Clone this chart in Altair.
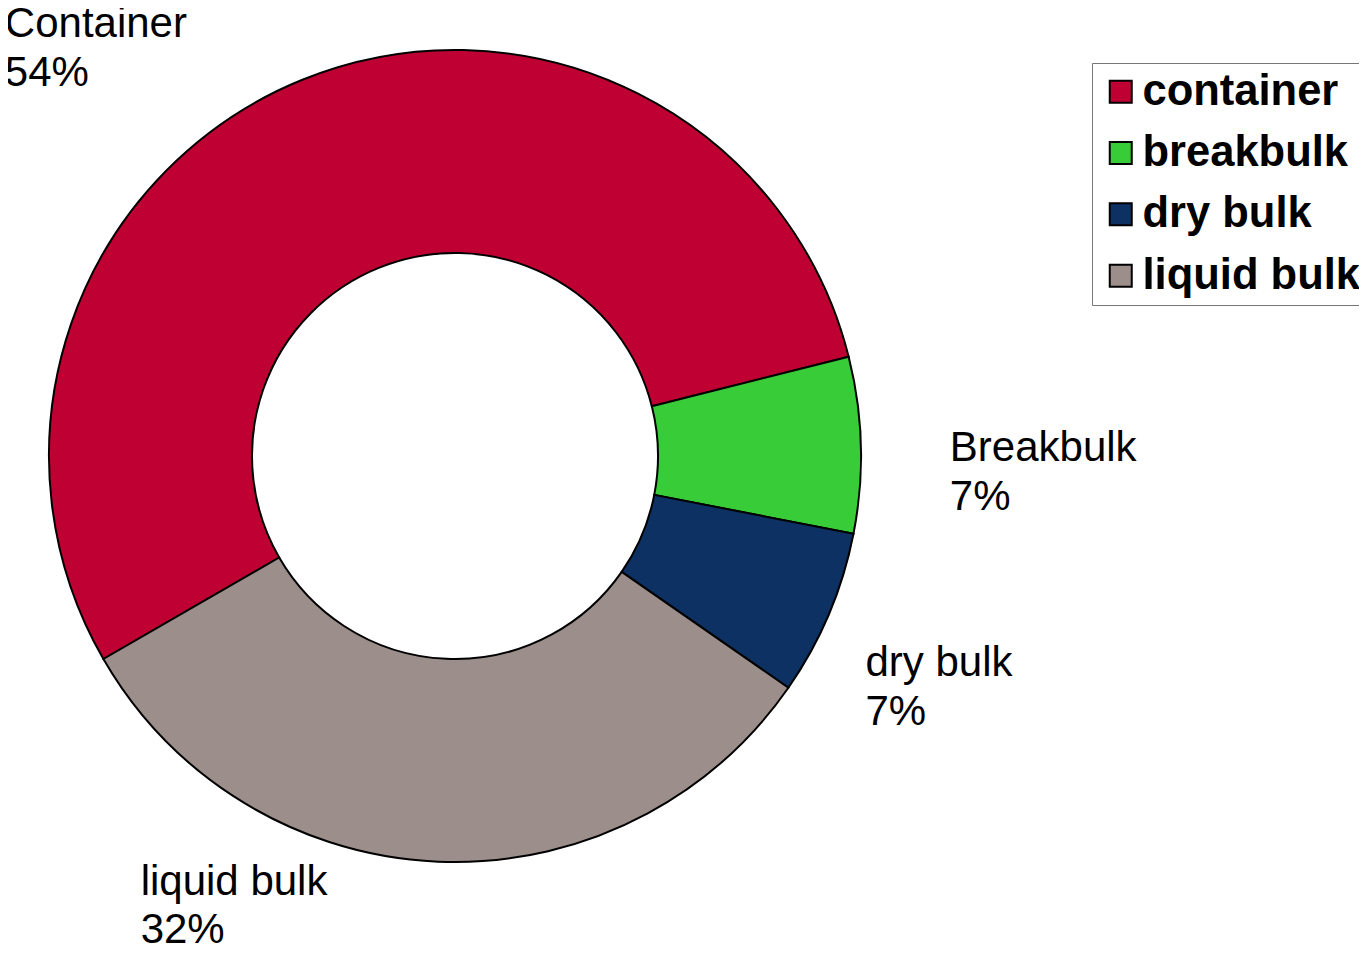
import math
import altair as alt
import pandas as pd

# ---- data ----
categories = ["container", "breakbulk", "dry bulk", "liquid bulk"]
pie_labels = ["Container", "Breakbulk", "dry bulk", "liquid bulk"]
shares = [54.4, 7.0, 6.6, 32.0]
pct_labels = ["54%", "7%", "7%", "32%"]
colors = ["#BE0032", "#38CC38", "#0D3163", "#9C8E8B"]

df = pd.DataFrame({
    "category": categories,
    "label": [f"{a}\n{b}" for a, b in zip(pie_labels, pct_labels)],
    "share": shares,
    "order": list(range(len(categories))),
})

# ---- layout / style constants ----
W, H = 1351, 939
CX, CY = 447, 448
R_OUT, R_IN = 406, 203
R_TXT = 450
START = math.radians(240)
FONT = "Liberation Sans"

theta_scale = alt.Scale(domain=[0, 100], range=[START, START + 2 * math.pi])
color_scale = alt.Scale(domain=categories, range=colors)

base = alt.Chart(df)

arcs = base.mark_arc(
    radius=R_OUT, radius2=R_IN, stroke="black", strokeWidth=2
).encode(
    theta=alt.Theta("share:Q", stack=True, scale=theta_scale),
    order=alt.Order("order:Q", sort="ascending"),
    color=alt.Color(
        "category:N",
        scale=color_scale,
        sort=categories,
        legend=alt.Legend(
            title=None,
            orient="none",
            legendX=1084,
            legendY=55,
            strokeColor="#777777",
            fillColor="white",
            padding=7,
            cornerRadius=0,
            labelFont=FONT,
            labelFontWeight="bold",
            labelFontSize=43.5,
            labelColor="black",
            labelLimit=500,
            labelOffset=0,
            symbolType="square",
            symbolSize=484,
            symbolStrokeColor="black",
            symbolStrokeWidth=2,
            symbolOpacity=1,
            rowPadding=16.3,
        ),
    ),
    x=alt.value(CX),
    y=alt.value(CY),
)

# label offsets from the slice's mid-angle anchor
label_offsets = {
    "container": (-281, -2),
    "breakbulk": (45, 17.5),
    "dry bulk": (-4, 45),
    "liquid bulk": (-295.5, -11),
}

text_base = base.transform_window(
    cum="sum(share)", sort=[alt.SortField("order", order="ascending")],
    frame=[None, 0]
).transform_calculate(mid="datum.cum - datum.share / 2")

text_layers = []
for cat in categories:
    dx, dy = label_offsets[cat]
    text_layers.append(
        text_base.transform_filter(alt.datum.category == cat).mark_text(
            radius=R_TXT, align="left", baseline="alphabetic",
            font=FONT, fontSize=42, lineHeight=48.5, lineBreak="\n",
            color="black", dx=dx, dy=dy,
        ).encode(
            theta=alt.Theta("mid:Q", stack=False, scale=theta_scale),
            text="label:N",
            x=alt.value(CX),
            y=alt.value(CY),
        )
    )

chart = alt.layer(arcs, *text_layers).properties(
    width=W, height=H, padding=0,
    autosize=alt.AutoSizeParams(type="none"),
    background="white",
).configure_view(stroke=None)

chart.save("out.html", embed_options={"renderer": "svg", "actions": False})
